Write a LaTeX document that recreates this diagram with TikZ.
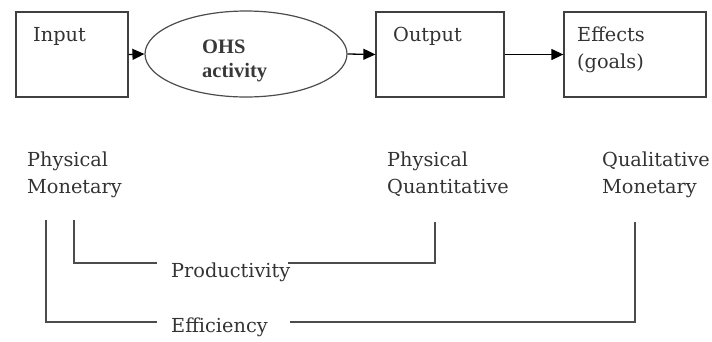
\documentclass[tikz,border=0pt]{standalone}
\usepackage{fontspec}
\setmainfont{DejaVu Serif}
\newfontfamily\ohsfont{Liberation Serif}
\usetikzlibrary{arrows.meta,shapes.geometric}
\tikzset{
  boxnode/.style={draw=black!75, line width=1.3pt, rectangle, inner sep=0pt},
  ellnode/.style={draw=black!70, line width=1.2pt, ellipse, inner sep=0pt},
  lab/.style={font=\fontsize{19.3}{27}\selectfont, text=black!80, inner sep=0pt, align=left},
  ohs/.style={font=\ohsfont\bfseries\fontsize{20.5}{24}\selectfont, text=black!78, inner sep=0pt, align=left},
  arr/.style={line width=1.3pt, draw=black, -{Triangle[length=12pt,width=11pt]}},
  brk/.style={line width=1.3pt, draw=black!70}
}
\begin{document}
\begin{tikzpicture}[x=1pt,y=-1pt]
\useasboundingbox (0,0) rectangle (712,341);
% boxes
\node[boxnode, minimum width=112pt, minimum height=85pt] (in) at (72,54.5) {};
\node[ellnode, minimum width=202pt, minimum height=86pt] (ohs) at (246,54) {};
\node[boxnode, minimum width=128pt, minimum height=85pt] (out) at (440,54.5) {};
\node[boxnode, minimum width=142pt, minimum height=85pt] (eff) at (635,54.5) {};
% box texts
\node[lab, anchor=base west] (tin) at (33,41) {Input};
\node[ohs, anchor=base west] (tohs) at (202,77) {OHS\\activity};
\node[lab, anchor=base west] (tout) at (393,41) {Output};
\node[lab, anchor=base west] (teff) at (577,68) {Effects\\(goals)};
% arrows
\draw[arr] (in.east) -- (ohs.west);
\draw[arr] (ohs.east) -- (out.west);
\draw[arr] (out.east) -- (eff.west);
% lower labels
\node[lab, anchor=base west] (lin) at (27,193) {Physical\\Monetary};
\node[lab, anchor=base west] (lout) at (387,193) {Physical\\Quantitative};
\node[lab, anchor=base west] (leff) at (602,193) {Qualitative\\Monetary};
\node[lab, anchor=base west] (prod) at (171,277) {Productivity};
\node[lab, anchor=base west] (effi) at (171,332) {Efficiency};
% brackets
\coordinate (p1) at (74,220);
\coordinate (p2) at (74,263);
\coordinate (p3) at (157,263);
\coordinate (p4) at (288,263);
\coordinate (p5) at (435,263);
\coordinate (p6) at (435,222);
\draw[brk] (p1) -- (p2) -- (p3);
\draw[brk] (p4) -- (p5) -- (p6);
\coordinate (e1) at (46,220);
\coordinate (e2) at (46,322);
\coordinate (e3) at (157,322);
\coordinate (e4) at (290,322);
\coordinate (e5) at (635,322);
\coordinate (e6) at (635,222);
\draw[brk] (e1) -- (e2) -- (e3);
\draw[brk] (e4) -- (e5) -- (e6);
\end{tikzpicture}
\end{document}
